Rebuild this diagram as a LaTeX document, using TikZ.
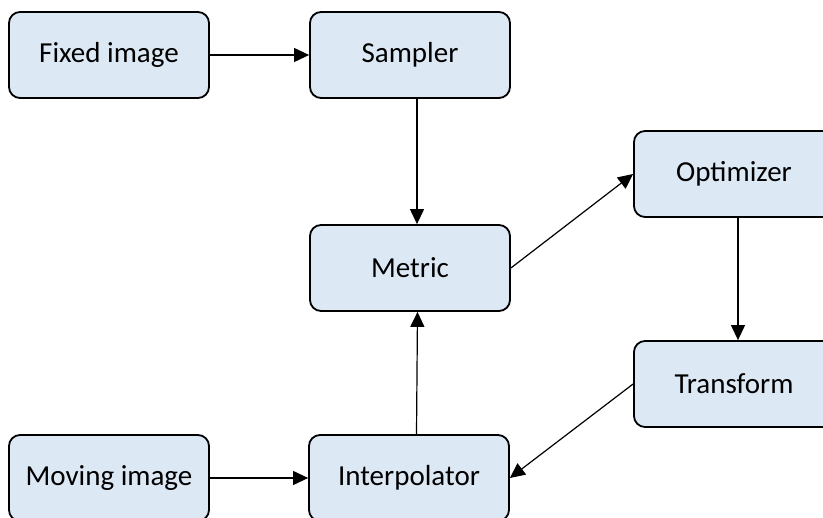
\documentclass[tikz,border=0pt]{standalone}
\usepackage{fontspec}
\setmainfont{Carlito}
\usetikzlibrary{arrows.meta}
\definecolor{boxfill}{RGB}{221,232,245}

\tikzset{
    block/.style={draw=black, line width=1.8pt, fill=boxfill, rounded corners=11pt,
        minimum width=200pt, minimum height=86pt, inner sep=0pt,
        font=\fontsize{29}{33}\selectfont},
    link/.style={line width=1.2pt, -{Triangle[length=15pt,width=14pt]}}
}

\begin{document}
\begin{tikzpicture}[x=1pt,y=-1pt]
    \useasboundingbox (0,0) rectangle (823,518);
    % Blocks
    \node[block] (fixed) at (109,55) {Fixed image};
    \node[block] (sampler) at (410,55) {Sampler};
    \node[block] (metric) at (410,268) {Metric};
    \node[block] (optimizer) at (734,174) {Optimizer};
    \node[block] (transform) at (734,384) {Transform};
    \node[block] (moving) at (109,478) {Moving image};
    \node[block] (interp) at (409,478) {Interpolator};
    % Connections
    \draw[link] (fixed) -- (sampler);
    \draw[link] ([xshift=7pt]sampler.south) -- ([xshift=7pt]metric.north);
    \draw[link] (metric.east) -- (optimizer.west);
    \draw[link] ([xshift=4pt]optimizer.south) -- ([xshift=4pt]transform.north);
    \draw[link] (transform.west) -- (interp.east);
    \draw[link] ([xshift=7.5pt]interp.north) -- ([xshift=7.5pt]metric.south);
    \draw[link] (moving) -- (interp);
\end{tikzpicture}
\end{document}
